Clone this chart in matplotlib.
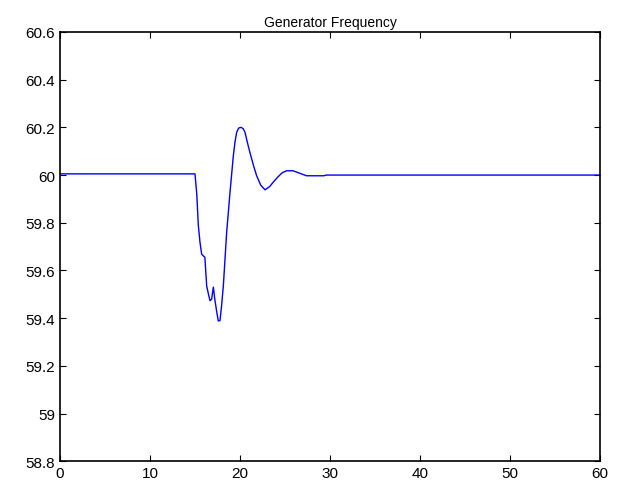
import numpy as np
import matplotlib
matplotlib.use('Agg')
import matplotlib.pyplot as plt

plt.rcParams['font.family'] = ['Liberation Sans', 'DejaVu Sans']

# time (s) and generator frequency (Hz)
t = [0, 15.0, 15.2, 15.37, 15.55, 15.74, 16.1, 16.3, 16.5, 16.67, 16.85, 17.04,
     17.2, 17.4, 17.59, 17.78, 17.95, 18.15, 18.52, 18.89, 19.26, 19.45, 19.63,
     19.85, 20.1, 20.35, 20.56, 20.8, 21.1, 21.5, 21.85, 22.3, 22.78, 23.3,
     23.8, 24.26, 24.7, 25.19, 25.9, 26.6, 27.4, 28.7, 29.3, 29.6, 60]
f = [60.005, 60.005, 59.92, 59.79, 59.72, 59.668, 59.655, 59.535, 59.5, 59.473,
     59.48, 59.53, 59.48, 59.43, 59.388, 59.39, 59.45, 59.535, 59.76, 59.927,
     60.081, 60.14, 60.179, 60.197, 60.2, 60.195, 60.179, 60.14, 60.095, 60.04,
     59.997, 59.958, 59.938, 59.952, 59.975, 59.994, 60.01, 60.018, 60.018,
     60.008, 59.997, 59.997, 59.997, 60.0, 60.0]

xticks = [0, 10, 20, 30, 40, 50, 60]
yticks = [58.8, 59.0, 59.2, 59.4, 59.6, 59.8, 60.0, 60.2, 60.4, 60.6]
ylabels = ['58.8', '59', '59.2', '59.4', '59.6', '59.8', '60', '60.2', '60.4', '60.6']

fig = plt.figure(figsize=(6.18, 4.85), dpi=100)
ax = fig.add_axes([0.097, 0.047, 0.874, 0.885])
ax.plot(t, f, color='#0000ff', lw=1.0)

ax.set_xlim(0, 60)
ax.set_ylim(58.8, 60.6)
ax.set_xticks(xticks)
ax.set_yticks(yticks)
ax.set_yticklabels(ylabels)
ax.tick_params(direction='in', top=True, right=True, labelsize=11, length=4, width=0.8)
for s in ax.spines.values():
    s.set_linewidth(1.2)
ax.set_title('Generator Frequency', fontsize=10, pad=4)

fig.savefig('out.png', dpi=100)
